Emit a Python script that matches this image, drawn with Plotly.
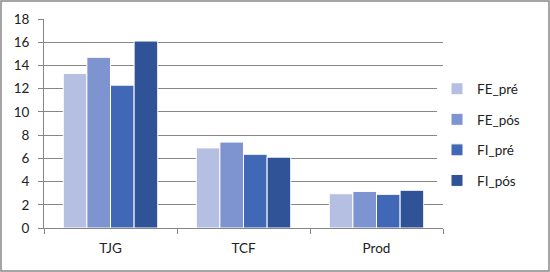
import plotly.graph_objects as go

categories = ["TJG", "TCF", "Prod"]
series_names = ["FE_pré", "FE_pós", "FI_pré", "FI_pós"]
fe_pre = [13.3, 6.9, 2.95]
fe_pos = [14.7, 7.4, 3.15]
fi_pre = [12.3, 6.35, 2.9]
fi_pos = [16.1, 6.1, 3.25]
y_ticks = [0, 2, 4, 6, 8, 10, 12, 14, 16, 18]

colors = ["#B4BFE1", "#7D94D1", "#4068B6", "#2F5396"]
values = [fe_pre, fe_pos, fi_pre, fi_pos]

fig = go.Figure()
for i, (name, vals) in enumerate(zip(series_names, values)):
    fig.add_trace(go.Bar(
        x=categories, y=vals, name=name,
        marker=dict(color=colors[i], line=dict(color="white", width=1)),
        legendgroup=name,
    ))

font_family = "Lato, 'Liberation Sans', sans-serif"
fig.update_layout(
    width=550, height=272,
    margin=dict(l=44, r=107, t=19, b=44),
    paper_bgcolor="white", plot_bgcolor="white",
    barmode="group", bargap=0.29, bargroupgap=0.0,
    font=dict(family=font_family, size=13.5, color="#222222"),
    legend=dict(x=0.985, y=0.445, xanchor="left", yanchor="middle",
                font=dict(size=13.5, color="#222222"),
                tracegroupgap=10, itemwidth=30, traceorder="grouped"),
    xaxis=dict(showline=True, linecolor="#868686", linewidth=1,
               ticks="outside", tickson="boundaries", ticklen=5, tickcolor="#868686",
               showgrid=False, tickfont=dict(size=13.5), ticklabelstandoff=8),
    yaxis=dict(range=[0, 18], tickvals=y_ticks, showline=True, linecolor="#868686",
               linewidth=1, ticks="outside", ticklen=5, tickcolor="#868686",
               showgrid=True, gridcolor="#868686", gridwidth=1, zeroline=False,
               tickfont=dict(size=13.5), ticklabelstandoff=6),
    shapes=[dict(type="rect", xref="paper", yref="paper", x0=-43/399, x1=1+106/399,
                 y0=-43/209, y1=1+18/209, line=dict(color="#888888", width=1.5))],
)
fig.write_html("out.html", config={"displayModeBar": False},
               post_script="document.body.style.margin='0';document.body.style.padding='0';document.body.style.overflow='hidden';")
